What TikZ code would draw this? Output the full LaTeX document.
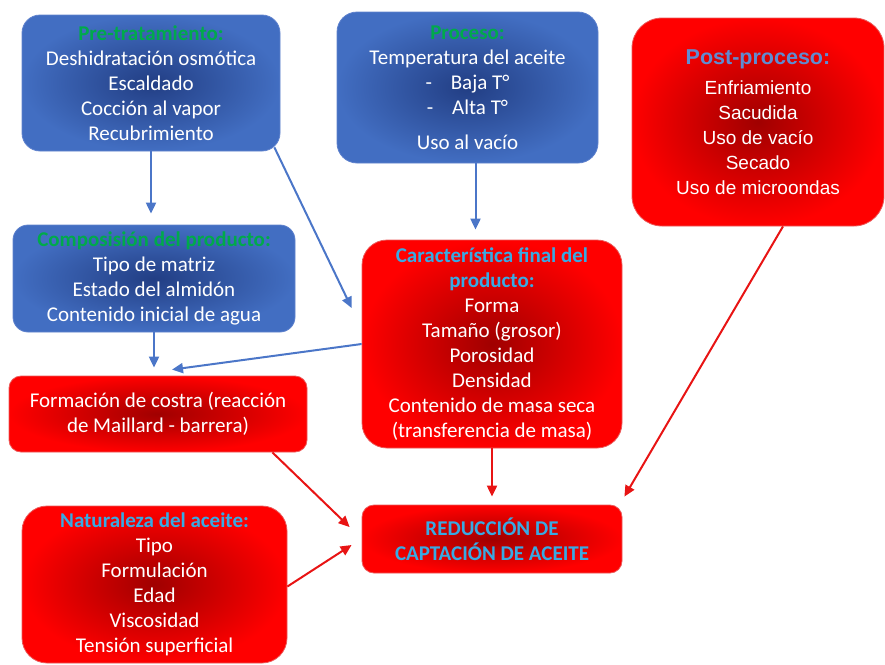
\documentclass[tikz,border=0pt]{standalone}
\usepackage{fontspec}
\setmainfont{Carlito}
\newfontfamily\arialfont{Liberation Sans}
\usepackage{tikz}
\usetikzlibrary{shapes,arrows.meta,backgrounds,positioning,calc}

\definecolor{bluein}{RGB}{34,62,132}
\definecolor{blueout}{RGB}{66,110,194}
\definecolor{blueline}{RGB}{95,130,205}
\definecolor{redin}{RGB}{160,0,0}
\definecolor{redout}{RGB}{255,0,0}
\definecolor{redline}{RGB}{235,90,90}
\definecolor{titlegreen}{RGB}{0,170,75}
\definecolor{titlecyan}{RGB}{55,170,228}
\definecolor{titlesteel}{RGB}{95,140,210}
\definecolor{arrowblue}{RGB}{75,118,200}
\definecolor{arrowred}{RGB}{232,20,20}

\newcommand\gtitle[1]{\textcolor{titlegreen}{\textbf{#1}}}
\newcommand\ctitle[1]{\textcolor{titlecyan}{\textbf{#1}}}

\begin{document}
\begin{tikzpicture}[x=1pt,y=-1pt,
  box/.style={rounded corners=#1, inner sep=0pt, align=center, text=white,
    font=\fontsize{21}{25}\selectfont},
  box/.default=15,
  bluebox/.style={box=#1, draw=blueline, line width=0.8pt, inner color=bluein, outer color=blueout},
  bluebox/.default=15,
  redbox/.style={box=#1, draw=redline, line width=0.8pt, inner color=redin, outer color=redout},
  redbox/.default=15,
  bluearrow/.style={draw=arrowblue, line width=2pt, -{Triangle[length=11pt,width=10pt]}},
  redarrow/.style={draw=arrowred, line width=2pt, -{Triangle[length=11pt,width=10pt]}}]
\useasboundingbox (0,0) rectangle (885,664);

% upper row
\node[bluebox=18, minimum width=258, minimum height=136] (pretrat) at (151,83)
  {\gtitle{Pre-tratamiento:}\\ Deshidratación osmótica\\ Escaldado\\ Cocción al vapor\\ Recubrimiento};
\node[bluebox=20, minimum width=261, minimum height=151] (proceso) at (467.5,87.5)
  {\gtitle{Proceso:}\\ Temperatura del aceite\\ -\hspace{0.9em}Baja T°\\ -\hspace{0.9em}Alta T°\\[10pt] Uso al vacío};
\node[redbox=30, minimum width=252, minimum height=208, font=\arialfont\fontsize{19}{25}\selectfont] (postproc) at (758,122)
  {\textcolor{titlesteel}{\fontsize{21.5}{30}\selectfont\textbf{Post-proceso:}}\\[5pt] Enfriamiento\\ Sacudida\\ Uso de vacío\\ Secado\\ Uso de microondas};

% middle
\node[bluebox=15, minimum width=282, minimum height=107] (composicion) at (154,278.5)
  {\gtitle{Composisión del producto:}\\ Tipo de matriz\\ Estado del almidón\\ Contenido inicial de agua};
\node[redbox=25, minimum width=260, minimum height=208] (caracteristica) at (492,344)
  {\ctitle{Característica final del}\\ \ctitle{producto:}\\ Forma\\ Tamaño (grosor)\\ Porosidad\\ Densidad\\ Contenido de masa seca\\ (transferencia de masa)};
\node[redbox=12, minimum width=298, minimum height=76] (costra) at (158,414)
  {Formación de costra (reacción\\ de Maillard - barrera)};

% bottom
\node[redbox=25, minimum width=265, minimum height=157] (naturaleza) at (154.5,584.5)
  {\ctitle{Naturaleza del aceite:}\\ Tipo\\ Formulación\\ Edad\\ Viscosidad\\ Tensión superficial};
\node[redbox=12, minimum width=260, minimum height=68] (reduccion) at (492,539)
  {\ctitle{REDUCCIÓN DE}\\ \ctitle{CAPTACIÓN DE ACEITE}};

% connectors
\draw[bluearrow, shorten >=11pt] (pretrat.south) -- (pretrat.south |- composicion.north);
\draw[bluearrow] ($(pretrat.south east)+(-6,-4)$) -- ($(caracteristica.west)+(-10,-36)$);
\draw[bluearrow, shorten >=10pt] ($(proceso.south)+(8,0)$) coordinate (p1) -- (p1 |- caracteristica.north);
\draw[bluearrow, shorten >=8pt] (composicion.south) -- (composicion.south |- costra.north);
\draw[bluearrow] (caracteristica.west) -- ($(costra.north)+(14,-6)$);
\draw[redarrow] ($(costra.south east)+(-35,0)$) -- ($(reduccion.west)+(-12,-12)$);
\draw[redarrow, shorten >=8pt] (caracteristica.south) -- (reduccion.north);
\draw[redarrow] ($(postproc.south)+(25,0)$) -- ($(reduccion.north east)+(2,-8)$);
\draw[redarrow] ($(naturaleza.east)+(0,2)$) -- ($(reduccion.west)+(-10,6)$);
\end{tikzpicture}
\end{document}
